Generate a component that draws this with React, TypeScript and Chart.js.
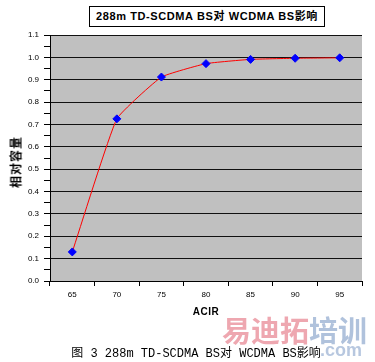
import React, { useEffect, useRef } from "react";
import { Chart, registerables } from "chart.js";

Chart.register(...registerables);

const categories = ["65", "70", "75", "80", "85", "90", "95"];
const capacity = [0.13, 0.725, 0.912, 0.972, 0.991, 0.996, 0.998];
const yMin = 0;
const yMax = 1.1;
const yStep = 0.05;

const chartTitle = "288m TD-SCDMA BS对 WCDMA BS影响";
const yTitle = "相对容量";
const xTitle = "ACIR";
const caption = "图 3 288m TD-SCDMA BS对 WCDMA BS影响";

const plotBg = {
  id: "plotBg",
  beforeDraw(chart: any) {
    const { ctx, chartArea } = chart;
    ctx.save();
    ctx.fillStyle = "#C0C0C0";
    ctx.fillRect(chartArea.left, chartArea.top, chartArea.right - chartArea.left, chartArea.bottom - chartArea.top);
    ctx.restore();
  },
};

export default function App() {
  const ref = useRef<HTMLCanvasElement | null>(null);
  useEffect(() => {
    if (!ref.current) return;
    const isMajor = (v: number) => Math.round(v * 100) % 10 === 0;
    const chart = new Chart(ref.current, {
      type: "line",
      data: {
        labels: categories,
        datasets: [
          {
            data: capacity,
            borderColor: "#FF0000",
            borderWidth: 1,
            tension: 0.12,
            pointStyle: "rectRot",
            pointRadius: 4,
            pointBackgroundColor: "#0000FF",
            pointBorderColor: "#0000FF",
            pointBorderWidth: 1,
          },
        ],
      },
      options: {
        animation: false,
        responsive: false,
        layout: { padding: { left: 8, right: 13, top: 35, bottom: 0 } },
        plugins: { legend: { display: false }, tooltip: { enabled: false }, title: { display: false } },
        scales: {
          x: {
            type: "category",
            offset: true,
            grid: { offset: true, drawOnChartArea: false, tickLength: 5, tickColor: "#000" },
            border: { color: "#000", width: 1 },
            ticks: { color: "#000", font: { size: 8, family: "Liberation Sans" }, padding: 4, maxRotation: 0 },
            afterFit: (s: any) => { s.height = 81; },
          },
          y: {
            min: yMin,
            max: yMax,
            grid: {
              color: (c: any) => (c.tick && isMajor(c.tick.value) ? "#111" : "rgba(0,0,0,0)"),
              tickColor: "#000",
              tickLength: 6,
              lineWidth: 1,
            },
            border: { color: "#000", width: 1 },
            ticks: {
              stepSize: yStep,
              autoSkip: false,
              color: "#000",
              font: { size: 8, family: "Liberation Sans" },
              padding: 5,
              callback: (v: any) => (isMajor(Number(v)) ? Number(v).toFixed(1) : ""),
            },
            afterFit: (s: any) => { s.width = 42; },
          },
        },
      },
      plugins: [plotBg],
    } as any);
    return () => chart.destroy();
  }, []);

  return (
    <div style={{ position: "fixed", left: 0, top: 0, width: 375, height: 362, background: "#fff", overflow: "hidden" }}>
      <canvas ref={ref} width={375} height={362} style={{ position: "absolute", left: 0, top: 0, width: 375, height: 362 }} />
      <div
        style={{
          position: "absolute", left: 89, top: 6, width: 234, height: 19,
          border: "1px solid #000", background: "#fff",
          fontFamily: "'Liberation Sans', 'Noto Sans CJK SC', sans-serif", fontWeight: "bold", fontSize: 11,
          lineHeight: "19px", textAlign: "center", letterSpacing: 0.6, whiteSpace: "nowrap", color: "#000",
        }}
      >
        {chartTitle}
      </div>
      <div
        style={{
          position: "absolute", left: 15, top: 162, transform: "translate(-50%, -50%) rotate(-90deg)",
          fontFamily: "'Noto Sans CJK SC', sans-serif", fontWeight: "bold", fontSize: 12, whiteSpace: "nowrap", color: "#000",
          letterSpacing: 1,
        }}
      >
        {yTitle}
      </div>
      <div
        style={{
          position: "absolute", left: 206, top: 311, transform: "translate(-50%, -50%)",
          fontFamily: "'Liberation Sans', sans-serif", fontWeight: "bold", fontSize: 10, whiteSpace: "nowrap", color: "#000",
          letterSpacing: 0.5,
        }}
      >
        {xTitle}
      </div>
      <div
        style={{
          position: "absolute", left: 222, top: 312, whiteSpace: "nowrap",
          fontFamily: "'Noto Sans CJK SC', sans-serif", fontWeight: "bold", fontSize: 29, lineHeight: "34px",
          opacity: 0.55,
        }}
      >
        <span style={{ color: "#e06070" }}>易迪拓</span>
        <span style={{ color: "#7090c0" }}>培训</span>
      </div>
      <div
        style={{
          position: "absolute", left: 320, top: 340, whiteSpace: "nowrap",
          fontFamily: "'Liberation Sans', sans-serif", fontWeight: "bold", fontSize: 18, color: "#7090c0", opacity: 0.5,
        }}
      >
        .com
      </div>
      <div
        style={{
          position: "absolute", left: 196, top: 352, transform: "translate(-50%, -50%)",
          fontFamily: "'Liberation Mono', 'Noto Sans CJK SC', monospace", fontSize: 12, whiteSpace: "nowrap", color: "#000",
        }}
      >
        {caption}
      </div>
    </div>
  );
}
